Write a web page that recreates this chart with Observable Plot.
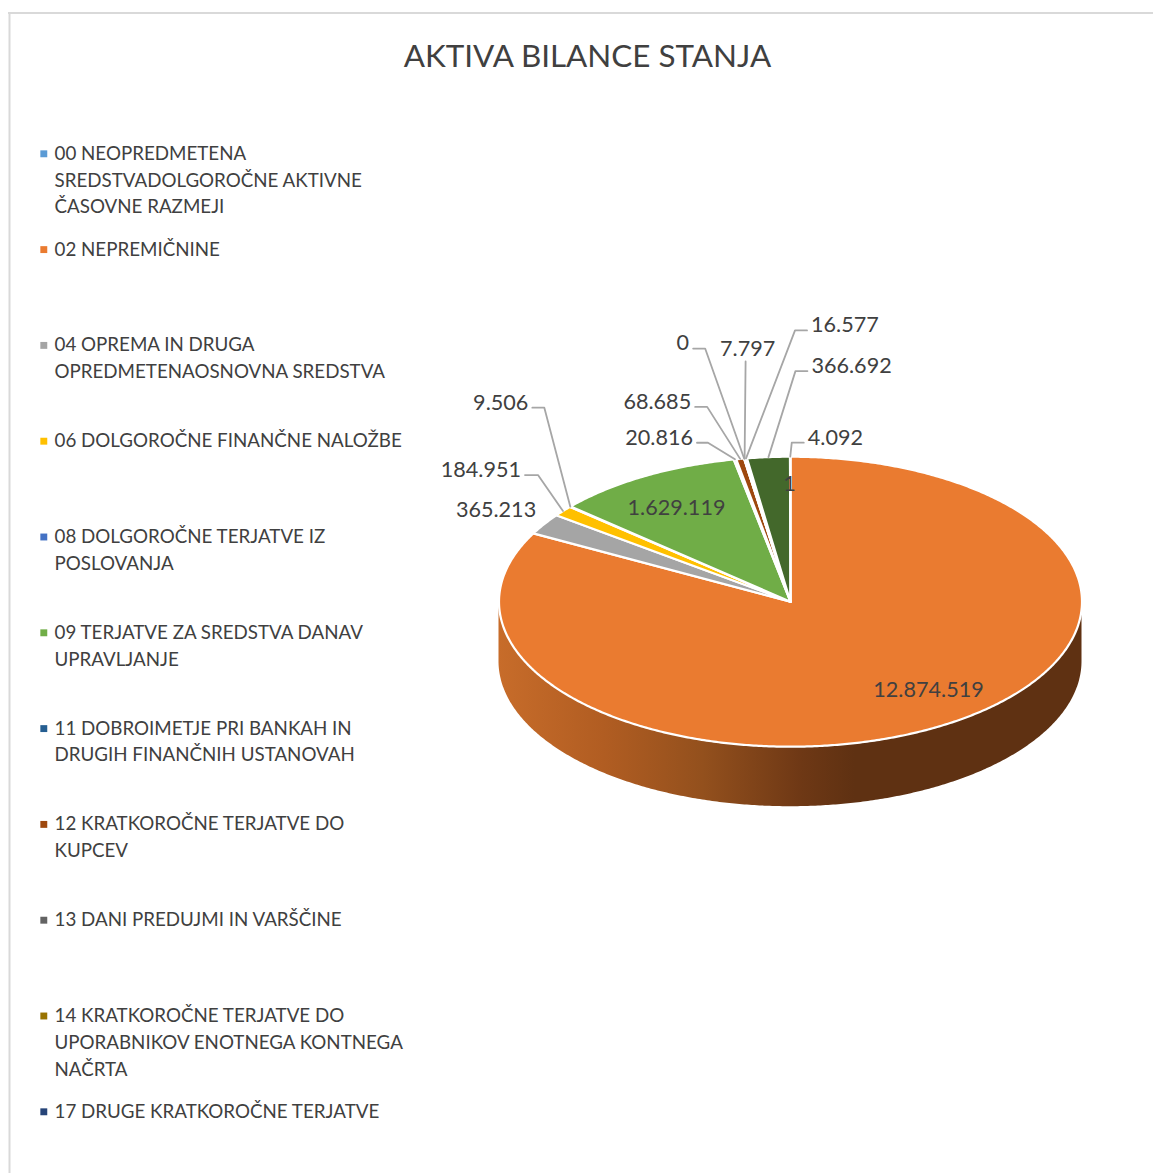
<!DOCTYPE html>
<html>
<head>
<meta charset="utf-8">
<script src="https://cdn.jsdelivr.net/npm/d3@7"></script>
<script src="https://cdn.jsdelivr.net/npm/@observablehq/plot@0.6"></script>
<style>
html,body{margin:0;padding:0;background:#fff;overflow:hidden}
svg{display:block}
</style>
</head>
<body>
<div id="chart"></div>
<script>
const chartTitle = "AKTIVA BILANCE STANJA";

const seriesKeys = ["00","02","04","06","08","09","11","12","13","14","17","18","19"];
const seriesValues = [1,12874519,365213,184951,9506,1629119,20816,68685,0,7797,16577,366692,4092];
const valueLabels = ["1","12.874.519","365.213","184.951","9.506","1.629.119","20.816","68.685","0","7.797","16.577","366.692","4.092"];
const seriesColors = ["#5b9bd5","#ea7b30","#a5a5a5","#ffc000","#4472c4","#70ad47","#255e91","#9e480e","#636363","#997300","#264478","#43682b","#f1975a"];

const legendLines = [
  ["00 NEOPREDMETENA","SREDSTVADOLGOROČNE AKTIVNE","ČASOVNE RAZMEJI"],
  ["02 NEPREMIČNINE"],
  ["04 OPREMA IN DRUGA","OPREDMETENAOSNOVNA SREDSTVA"],
  ["06 DOLGOROČNE FINANČNE NALOŽBE"],
  ["08 DOLGOROČNE TERJATVE IZ","POSLOVANJA"],
  ["09 TERJATVE ZA SREDSTVA DANAV","UPRAVLJANJE"],
  ["11 DOBROIMETJE PRI BANKAH IN","DRUGIH FINANČNIH USTANOVAH"],
  ["12 KRATKOROČNE TERJATVE DO","KUPCEV"],
  ["13 DANI PREDUJMI IN VARŠČINE"],
  ["14 KRATKOROČNE TERJATVE DO","UPORABNIKOV ENOTNEGA KONTNEGA","NAČRTA"],
  ["17 DRUGE KRATKOROČNE TERJATVE"]
];

// Layout (pixels)
const W = 1153, H = 1173;
const cx = 790, cy = 601.2, rx = 291.5, ry = 145, depth = 60;
const legendTop = 153.3, legendStep = 95.8, legendLineStep = 26.8;

// Data label placement, offsets from the slice's rim point (or pie centre for inside labels)
const insideLabels = [[0,-1,-117.5],[1,138,88],[5,-114,-94]];
const freeLabels = [[2,-8,-14]];
// series index, elbow dx, elbow dy, horizontal stub
const leaderLabels = [
  [3,-25,-36,-13],[4,-26,-99,-12],[6,-27,-16.6,-11],[7,-33,-52,-12],[8,-39,-110,-12],
  [9,1,-97,0],[10,49,-128,12],[11,27,-86,12],[12,1.5,-14,12]
];

const total = d3.sum(seriesValues);
const toXY = (deg, r = 1) => {
  const a = deg * Math.PI / 180;
  return [cx + r * rx * Math.sin(a), cy - r * ry * Math.cos(a)];
};

let cum = 0;
const slices = seriesValues.map((v, i) => {
  const start = cum / total * 360;
  cum += v;
  const end = cum / total * 360;
  return {i, key: seriesKeys[i], start, end, mid: (start + end) / 2};
});

const slicePts = [];
for (const s of slices) {
  const n = Math.max(2, Math.ceil((s.end - s.start) * 2));
  const pts = [[cx, cy]];
  for (let k = 0; k <= n; k++) pts.push(toXY(s.start + (s.end - s.start) * k / n));
  pts.push([cx, cy]);
  for (const p of pts) slicePts.push({key: s.key, x: p[0], y: p[1]});
}

// Side wall: the part of each slice on the near half of the rim
const sidePts = [];
for (const s of slices) {
  const a0 = Math.max(s.start, 90), a1 = Math.min(s.end, 270);
  if (a1 <= a0) continue;
  for (let d = a0; d <= a1 + 1e-6; d += 0.5) {
    const [x, y] = toXY(d);
    sidePts.push({key: s.key, x, y1: y, y2: y + depth});
  }
}

const rim = slices.map(s => {
  const [x, y] = toXY(s.mid);
  return {x, y};
});

const leaderPts = [];
const leftText = [], rightText = [], midText = [];
for (const [i, ex, ey, stub] of leaderLabels) {
  const a = rim[i];
  const elbow = {x: a.x + ex, y: a.y + ey};
  leaderPts.push({z: i, x: a.x, y: a.y}, {z: i, ...elbow});
  if (stub) leaderPts.push({z: i, x: elbow.x + stub, y: elbow.y});
  const t = {text: valueLabels[i], y: elbow.y + (stub ? -5 : -12)};
  if (stub < 0) leftText.push({...t, x: elbow.x + stub - 4});
  else if (stub > 0) rightText.push({...t, x: elbow.x + stub + 4});
  else midText.push({...t, x: elbow.x + 2});
}
for (const [i, dx, dy] of freeLabels) leftText.push({text: valueLabels[i], x: rim[i].x + dx, y: rim[i].y + dy});
for (const [i, dx, dy] of insideLabels) midText.push({text: valueLabels[i], x: cx + dx, y: cy + dy});

const legendRows = legendLines.map((lines, i) => ({key: seriesKeys[i], y: legendTop + i * legendStep}));
const legendText = legendLines.flatMap((lines, i) =>
  lines.map((text, j) => ({text, y: legendTop + i * legendStep + j * legendLineStep})));

const gradientStops = [[0,"#c76c2a"],[0.18,"#b15d22"],[0.35,"#93501d"],[0.52,"#6e3815"],[0.61,"#5f3112"],[1,"#5f3112"]];
const defs = () => {
  const d = d3.create("svg:defs");
  const g = d.append("linearGradient").attr("id","sideFill").attr("x1","0").attr("x2","1").attr("y1","0").attr("y2","0");
  for (const [o,c] of gradientStops) g.append("stop").attr("offset",o).attr("stop-color",c);
  return d.node();
};

const textColor = "#404040";
const dataFont = 21.6;

const plot = Plot.plot({
  width: W, height: H, margin: 0,
  x: {domain: [0, W], range: [0, W], axis: null},
  y: {domain: [0, H], range: [0, H], axis: null},
  color: {domain: seriesKeys, range: seriesColors},
  style: {fontFamily: "Lato", background: "#fff", overflow: "hidden"},
  marks: [
    defs,
    Plot.ruleX([9], {y1: 12, y2: H, stroke: "#d9d9d9", strokeWidth: 2}),
    Plot.ruleY([12.5], {x1: 8, x2: W, stroke: "#d9d9d9", strokeWidth: 2}),
    Plot.text([chartTitle], {x: 587, y: 56, text: d => d, fontSize: 31.4, fill: textColor}),
    Plot.dot(legendRows, {x: 43.3, y: "y", symbol: "square", r: 3.9, fill: "key"}),
    Plot.text(legendText, {x: 54, y: "y", text: "text", textAnchor: "start", fontSize: 18.75, fill: textColor}),
    Plot.area(sidePts, {x1: "x", y1: "y1", x2: "x", y2: "y2", z: "key", fill: "url(#sideFill)", curve: "linear"}),
    Plot.line(slicePts, {x: "x", y: "y", z: "key", fill: "key", stroke: "#fff", strokeWidth: 2.2, strokeLinejoin: "round", curve: "linear"}),
    Plot.line(leaderPts, {x: "x", y: "y", z: "z", stroke: "#a6a6a6", strokeWidth: 1.8, curve: "linear"}),
    Plot.text(leftText, {x: "x", y: "y", text: "text", textAnchor: "end", fontSize: dataFont, fill: textColor}),
    Plot.text(rightText, {x: "x", y: "y", text: "text", textAnchor: "start", fontSize: dataFont, fill: textColor}),
    Plot.text(midText, {x: "x", y: "y", text: "text", textAnchor: "middle", fontSize: dataFont, fill: textColor})
  ]
});
document.getElementById("chart").appendChild(plot);
</script>
</body>
</html>
